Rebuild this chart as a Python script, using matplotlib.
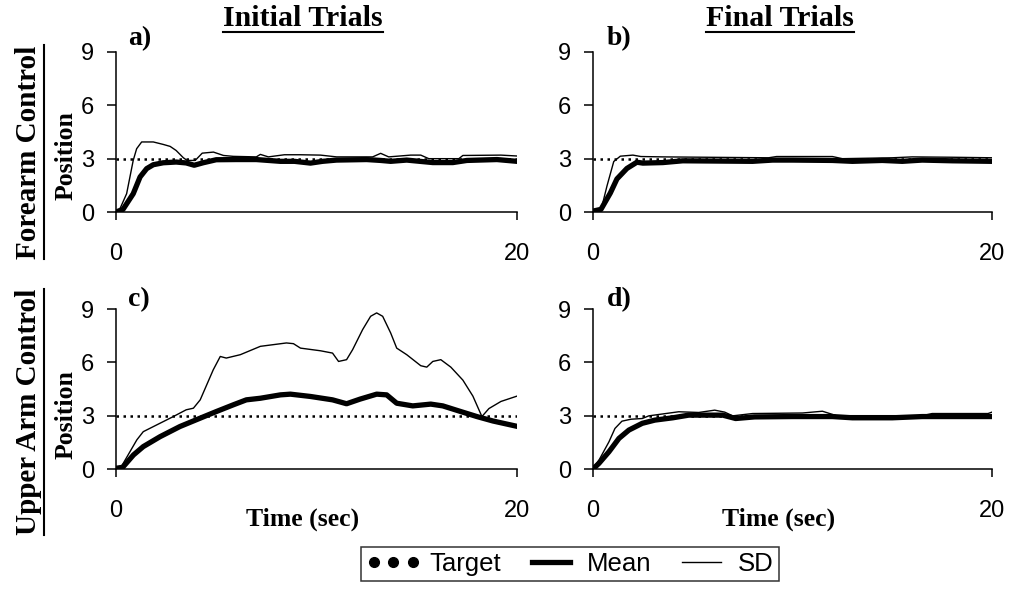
import matplotlib
matplotlib.use('Agg')
import matplotlib.pyplot as plt
from matplotlib.lines import Line2D

# target position and time range
target = 3.0
t_range = [0, 20]

# a) forearm control, initial trials
t_a_mean = [0, 0.35, 0.86, 1.2, 1.53, 1.86, 2.36, 3.0, 3.5, 3.9, 4.35, 5.0, 6.0, 7.0, 8.2, 8.9, 9.7, 10.3, 11.0, 12.5, 13.2, 13.7, 14.5, 15.8, 16.8, 17.5, 19.0, 20]
a_mean = [0, 0.15, 1.03, 1.97, 2.44, 2.66, 2.77, 2.81, 2.76, 2.63, 2.77, 2.94, 2.95, 2.95, 2.85, 2.85, 2.75, 2.85, 2.92, 2.95, 2.9, 2.85, 2.92, 2.78, 2.78, 2.9, 2.95, 2.85]
t_a_sd = [0, 0.2, 0.53, 0.86, 1.03, 1.28, 1.86, 2.36, 2.7, 3.0, 3.36, 3.55, 3.95, 4.3, 4.86, 5.36, 5.85, 7.0, 7.2, 7.6, 8.4, 9.2, 10.2, 11, 12.8, 13.2, 13.6, 14.7, 15.2, 15.6, 17.1, 17.3, 19.2, 20]
a_sd = [0, 0.19, 1.03, 2.91, 3.56, 3.94, 3.94, 3.8, 3.69, 3.46, 3.05, 2.9, 2.9, 3.31, 3.37, 3.18, 3.13, 3.1, 3.24, 3.1, 3.22, 3.22, 3.2, 3.1, 3.1, 3.3, 3.1, 3.2, 3.2, 3.0, 3.0, 3.18, 3.2, 3.15]

# b) forearm control, final trials
t_b_mean = [0, 0.4, 0.87, 1.2, 1.7, 2.2, 2.5, 3.5, 4.5, 8, 9, 10, 12, 13, 14.5, 15.5, 16.5, 18, 20]
b_mean = [0.05, 0.15, 1.07, 1.86, 2.45, 2.8, 2.75, 2.78, 2.88, 2.85, 2.92, 2.92, 2.9, 2.85, 2.9, 2.85, 2.92, 2.88, 2.85]
t_b_sd = [0, 0.4, 0.7, 1.04, 1.37, 2.0, 2.4, 3.5, 8.8, 9.2, 12, 12.5, 15, 16, 18, 20]
b_sd = [0.05, 0.1, 1.46, 2.84, 3.14, 3.2, 3.12, 3.1, 3.05, 3.12, 3.12, 3.0, 3.05, 3.1, 3.08, 3.05]

# c) upper arm control, initial trials
t_c_mean = [0, 0.3, 0.87, 1.36, 2.2, 3.19, 4.2, 5.0, 5.85, 6.5, 7.2, 8.2, 8.7, 9.7, 10.8, 11.5, 12.17, 13.0, 13.5, 14.0, 14.8, 15.7, 16.3, 17.2, 18.0, 18.8, 20]
c_mean = [0, 0.05, 0.79, 1.26, 1.82, 2.39, 2.86, 3.23, 3.61, 3.89, 3.98, 4.17, 4.21, 4.08, 3.89, 3.67, 3.93, 4.21, 4.17, 3.7, 3.55, 3.65, 3.55, 3.23, 2.95, 2.7, 2.4]
t_c_sd = [0, 0.3, 0.7, 1.04, 1.36, 2.03, 2.86, 3.5, 3.86, 4.2, 4.85, 5.2, 5.5, 6.2, 7.2, 8.5, 8.85, 9.2, 10.2, 10.8, 11.1, 11.5, 11.8, 12.3, 12.7, 13.0, 13.3, 13.7, 14.0, 14.5, 15.2, 15.5, 15.8, 16.2, 16.7, 17.3, 17.8, 18.25, 18.6, 19.2, 20]
c_sd = [0.15, 0.2, 0.98, 1.64, 2.1, 2.48, 2.95, 3.33, 3.42, 3.89, 5.58, 6.33, 6.24, 6.43, 6.9, 7.09, 7.05, 6.8, 6.65, 6.52, 6.05, 6.15, 6.71, 7.84, 8.59, 8.78, 8.59, 7.65, 6.8, 6.43, 5.81, 5.73, 6.05, 6.15, 5.73, 5.0, 4.1, 2.95, 3.4, 3.8, 4.1]

# d) upper arm control, final trials
t_d_mean = [0, 0.3, 0.8, 1.3, 1.8, 2.47, 3.1, 4.0, 4.8, 6.5, 7.15, 8.1, 10, 12, 13, 15, 16.5, 20]
d_mean = [0, 0.32, 0.97, 1.72, 2.19, 2.57, 2.75, 2.88, 3.03, 3.03, 2.84, 2.93, 2.95, 2.95, 2.88, 2.88, 2.95, 2.95]
t_d_sd = [0, 0.3, 0.8, 1.1, 1.45, 1.9, 2.47, 2.8, 4.3, 5.3, 6.1, 6.6, 7.0, 8.0, 10.5, 11.5, 12.2, 16.5, 17, 19.8, 20]
d_sd = [0.05, 0.5, 1.53, 2.28, 2.69, 2.8, 2.84, 2.99, 3.22, 3.18, 3.31, 3.2, 2.99, 3.12, 3.15, 3.25, 3.0, 3.0, 3.12, 3.12, 3.2]

panel_labels = ['a)', 'b)', 'c)', 'd)']
col_titles = ['Initial Trials', 'Final Trials']
row_titles = ['Forearm Control', 'Upper Arm Control']

W, H = 1017, 597
SANS = 'Liberation Sans'
SERIF = 'Liberation Serif'

fig = plt.figure(figsize=(W/100, H/100), dpi=100)

def px(x, y):
	return x / W, 1 - y / H

def add_panel(left, right, top, bottom):
	l, t = px(left, top)
	r, b = px(right, bottom)
	return fig.add_axes([l, b, r - l, t - b])

boxes = [(116, 517, 52, 212), (593, 992, 52, 212),
		(116, 517, 309, 469), (593, 992, 309, 469)]
series = [(t_a_mean, a_mean, t_a_sd, a_sd), (t_b_mean, b_mean, t_b_sd, b_sd),
		(t_c_mean, c_mean, t_c_sd, c_sd), (t_d_mean, d_mean, t_d_sd, d_sd)]

for i in range(4):
	ax = add_panel(*boxes[i])
	tm, m, ts, s = series[i]
	ax.plot(t_range, [target, target], color='black', lw=1.8, ls=(0, (1.0, 1.8)),
		dash_capstyle='butt', zorder=2)
	ax.plot(ts, s, color='black', lw=1.0, zorder=3)
	ax.plot(tm, m, color='black', lw=3.8, solid_joinstyle='round', zorder=4)
	ax.set_xlim(0, 20)
	ax.set_ylim(0, 9)
	ax.set_xticks([0, 20])
	ax.set_yticks([0, 3, 6, 9])
	for sp in ['top', 'right']:
		ax.spines[sp].set_visible(False)
	for sp in ['left', 'bottom']:
		ax.spines[sp].set_linewidth(1.1)
	ax.tick_params(axis='y', direction='out', length=6.5, width=1.1, pad=9, labelsize=17)
	ax.tick_params(axis='x', direction='out', length=6, width=1.1, pad=16, labelsize=17)
	for lab in ax.get_xticklabels() + ax.get_yticklabels():
		lab.set_fontfamily(SANS)
	ax.set_facecolor('none')

# panel letters
for lab, (x, y) in zip(panel_labels, [(128, 39), (607, 39), (128, 300), (607, 300)]):
	fig.text(*px(x, y), lab, family=SERIF, weight='bold', fontsize=20, ha='left', va='center')

# y labels
for y in [156, 415]:
	fig.text(*px(66, y), 'Position', family=SERIF, weight='bold', fontsize=18.5,
		rotation=90, ha='center', va='center')

# x labels
for x in [303, 779]:
	fig.text(*px(x, 519), 'Time (sec)', family=SERIF, weight='bold', fontsize=18.5,
		ha='center', va='center')

# underlined headings
heads = []
for title, x in zip(col_titles, [303, 780]):
	heads.append(('h', fig.text(*px(x, 19), title, family=SERIF, weight='bold', fontsize=21.5,
		ha='center', va='center')))
for title, y in zip(row_titles, [152, 412]):
	heads.append(('v', fig.text(*px(29, y), title, family=SERIF, weight='bold', fontsize=21,
		rotation=90, ha='center', va='center')))

fig.canvas.draw()
rend = fig.canvas.get_renderer()
for kind, txt in heads:
	bb = txt.get_window_extent(rend).transformed(fig.transFigure.inverted())
	if kind == 'h':
		yl = bb.y0 + 1.0 / H
		fig.add_artist(Line2D([bb.x0, bb.x1], [yl, yl], color='black', lw=1.5,
			transform=fig.transFigure))
	else:
		xl = bb.x1 + 1.0 / W
		fig.add_artist(Line2D([xl, xl], [bb.y0, bb.y1], color='black', lw=1.5,
			transform=fig.transFigure))

# legend
handles = [Line2D([0], [0], ls='none', marker='o', color='black', markersize=7),
		Line2D([0], [0], color='black', lw=3.8),
		Line2D([0], [0], color='black', lw=1.0)]
leg = fig.legend(handles, ['Target', 'Mean', 'SD'], loc='center',
	bbox_to_anchor=px(570, 564), ncol=3, numpoints=3, frameon=True, fancybox=False,
	edgecolor='black', prop={'family': SANS, 'size': 18.5}, handlelength=2.1,
	handletextpad=0.35, columnspacing=0.9, borderpad=0.2, borderaxespad=0)
leg.get_frame().set_linewidth(1.1)

fig.savefig('out.png', dpi=100)
